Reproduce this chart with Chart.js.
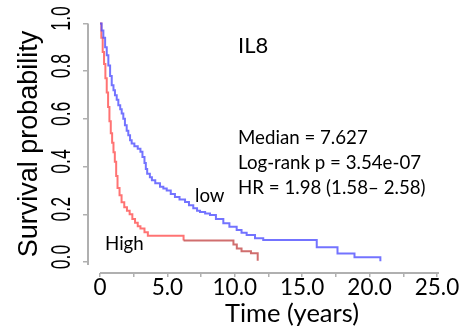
<!DOCTYPE html>
<html lang="en">
<head>
<meta charset="UTF-8">
<title>IL8 survival</title>
<script src="https://cdn.jsdelivr.net/npm/chart.js@4.4.0/dist/chart.umd.min.js"></script>
<style>
    body, html { margin: 0; padding: 0; background: #fff; }
    #wrap { width: 476px; height: 329px; }
</style>
</head>
<body>
<div id="wrap"><canvas id="km"></canvas></div>
<script>
// Kaplan-Meier steps: time (years) and survival after each drop
const lowTime = [0, 0.12, 0.25, 0.38, 0.5, 0.62, 0.75, 0.87, 1.0, 1.11, 1.24, 1.36, 1.5, 1.61, 1.73, 1.85, 1.98, 2.1, 2.23, 2.35, 2.55, 2.8, 3.0, 3.15, 3.3, 3.4, 3.5, 3.7, 3.85, 4.1, 4.45, 4.7, 4.95, 5.25, 5.56, 5.9, 6.31, 6.6, 6.92, 7.2, 7.42, 7.8, 8.16, 8.6, 9.15, 9.6, 10.14, 10.5, 10.88, 11.5, 12.11, 16.08, 17.62, 18.88, 20.8];
const lowSurv = [1.0, 0.97, 0.94, 0.9, 0.866, 0.824, 0.78, 0.741, 0.72, 0.699, 0.68, 0.657, 0.64, 0.622, 0.6, 0.573, 0.55, 0.531, 0.51, 0.497, 0.485, 0.475, 0.462, 0.44, 0.415, 0.39, 0.37, 0.355, 0.343, 0.33, 0.315, 0.308, 0.3, 0.285, 0.273, 0.262, 0.252, 0.238, 0.225, 0.215, 0.21, 0.203, 0.197, 0.18, 0.162, 0.148, 0.134, 0.123, 0.113, 0.1, 0.092, 0.062, 0.036, 0.02, 0.003];

const highTime = [0, 0.1, 0.2, 0.3, 0.4, 0.5, 0.6, 0.7, 0.8, 0.9, 1.0, 1.1, 1.2, 1.3, 1.45, 1.6, 1.8, 2.0, 2.2, 2.4, 2.6, 2.8, 3.0, 3.3, 3.55, 6.2, 9.9, 10.15, 10.5, 11.2, 11.7];
const highSurv = [1.0, 0.94, 0.88, 0.83, 0.77, 0.71, 0.65, 0.59, 0.54, 0.5, 0.46, 0.42, 0.36, 0.31, 0.28, 0.25, 0.23, 0.215, 0.2, 0.18, 0.165, 0.15, 0.14, 0.125, 0.11, 0.09, 0.073, 0.057, 0.045, 0.037, 0.005];

const xTickValues = [0, 2.5, 5, 7.5, 10, 12.5, 15, 17.5, 20, 22.5, 25];
const xTickLabels = ['0', '', '5.0', '', '10.0', '', '15.0', '', '20.0', '', '25.0'];
const yTickValues = [0, 0.2, 0.4, 0.6, 0.8, 1.0];
const yTickLabels = ['0.0', '0.2', '0.4', '0.6', '0.8', '1.0'];

const geneName = 'IL8';
const notes = ['Median = 7.627', 'Log-rank p = 3.54e-07', 'HR = 1.98 (1.58\u2013 2.58)'];
const groupNames = ['low', 'High'];

const toPoints = (ts, ss) => ts.map((t, i) => ({ x: t, y: ss[i] }));

// axis lines, rotated y labels and the text annotations
const decor = {
    id: 'decor',
    afterDraw(chart) {
        const { ctx, chartArea: area, scales: { x, y } } = chart;
        ctx.save();

        // R style axes: line only between first and last tick
        ctx.strokeStyle = '#b0b0b0';
        ctx.lineWidth = 2;
        ctx.beginPath();
        ctx.moveTo(area.left, y.getPixelForValue(1));
        ctx.lineTo(area.left, y.getPixelForValue(0) + 3);
        ctx.moveTo(x.getPixelForValue(0), area.bottom);
        ctx.lineTo(x.getPixelForValue(25) + 2, area.bottom);
        ctx.stroke();

        ctx.fillStyle = '#000';
        ctx.textAlign = 'center';
        ctx.textBaseline = 'alphabetic';

        // y tick labels, rotated and condensed
        ctx.font = '28px "Liberation Sans"';
        yTickValues.forEach((v, i) => {
            ctx.save();
            ctx.translate(70, y.getPixelForValue(v) - 5);
            ctx.rotate(-Math.PI / 2);
            ctx.scale(0.63, 1);
            ctx.fillText(yTickLabels[i], 0, 0);
            ctx.restore();
        });

        // axis titles
        ctx.save();
        ctx.translate(37, 144);
        ctx.rotate(-Math.PI / 2);
        ctx.font = '27px "Liberation Sans"';
        ctx.fillText('Survival probability', 0, 0);
        ctx.restore();

        ctx.font = '25.5px Lato';
        ctx.fillText('Time (years)', 292, 322);

        // annotations
        ctx.textAlign = 'left';
        ctx.font = '22px Lato';
        ctx.fillText(geneName, 238, 53);
        ctx.font = '18.7px Lato';
        notes.forEach((t, i) => ctx.fillText(t, 238, 144 + i * 25));
        ctx.fillText(groupNames[0], 195, 202);
        ctx.fillText(groupNames[1], 105, 250);

        ctx.restore();
    }
};

const ctx = document.getElementById('km').getContext('2d');
new Chart(ctx, {
    type: 'line',
    data: {
        datasets: [{
            label: groupNames[0],
            data: toPoints(lowTime, lowSurv),
            stepped: true,
            borderColor: 'rgba(80, 80, 255, 0.8)',
            borderWidth: 2,
            pointRadius: 0,
            fill: false
        }, {
            label: groupNames[1],
            data: toPoints(highTime, highSurv),
            stepped: true,
            borderColor: 'rgba(255, 80, 80, 0.8)',
            borderWidth: 2,
            pointRadius: 0,
            fill: false,
            // censor marks darken the tail of the high group
            segment: {
                borderColor: c => c.p0.parsed.x >= 6 ? 'rgba(200, 85, 85, 0.85)' : undefined
            }
        }]
    },
    options: {
        responsive: true,
        maintainAspectRatio: false,
        animation: false,
        layout: { padding: { top: 21, right: 37, left: 0, bottom: 0 } },
        plugins: {
            legend: { display: false },
            tooltip: { enabled: false }
        },
        scales: {
            x: {
                type: 'linear',
                min: -0.89,
                max: 25.15,
                afterBuildTicks: s => { s.ticks = xTickValues.map(v => ({ value: v })); },
                afterFit: s => { s.height = 56; },
                border: { display: false },
                grid: { drawOnChartArea: false, drawTicks: true, tickLength: 4, color: '#b0b0b0', lineWidth: 1.5 },
                ticks: {
                    autoSkip: false,
                    maxRotation: 0,
                    padding: -3,
                    color: '#000',
                    font: { family: 'Lato', size: 22.5 },
                    callback: (v, i) => xTickLabels[i]
                }
            },
            y: {
                type: 'linear',
                min: -0.046,
                max: 1.01,
                afterBuildTicks: s => { s.ticks = yTickValues.map(v => ({ value: v })); },
                afterFit: s => { s.width = 88; },
                border: { display: false },
                grid: { drawOnChartArea: false, drawTicks: true, tickLength: 5, color: '#b0b0b0', lineWidth: 1.5 },
                ticks: { display: false }
            }
        }
    },
    plugins: [decor]
});
</script>
</body>
</html>
